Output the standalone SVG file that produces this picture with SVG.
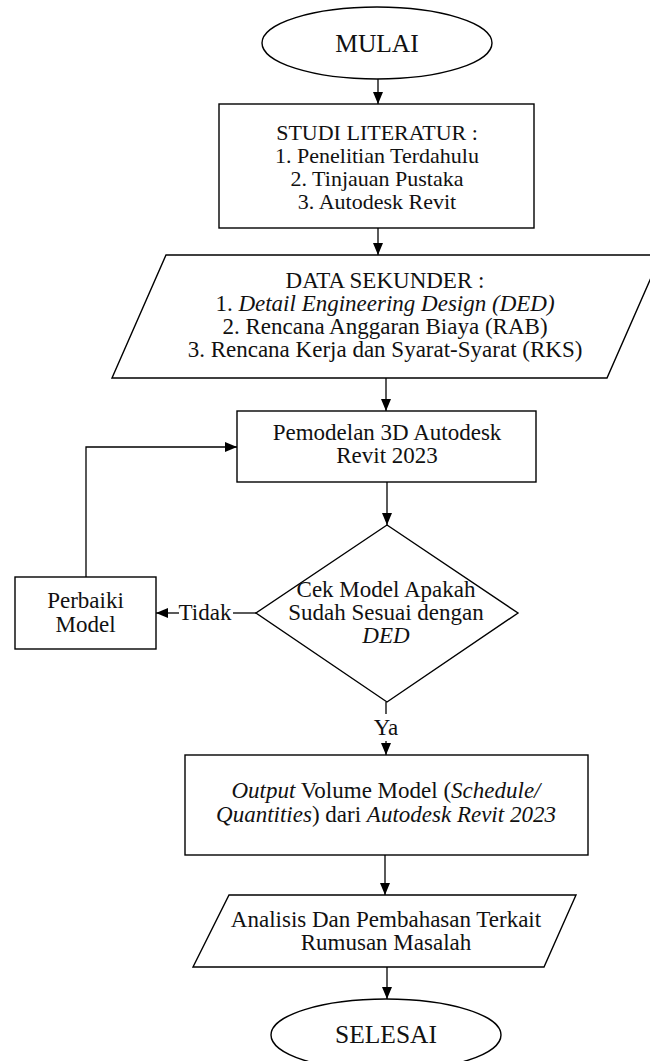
<svg xmlns="http://www.w3.org/2000/svg" width="650" height="1061" viewBox="0 0 650 1061">
<defs>
<marker id="arr" viewBox="0 0 12 10" refX="12" refY="5" markerWidth="12" markerHeight="10" markerUnits="userSpaceOnUse" orient="auto">
<path d="M0,0 L12,5 L0,10 z" fill="#000"/>
</marker>
<style>
.s{fill:#fff;stroke:#000;stroke-width:1.4}
.c{fill:none;stroke:#000;stroke-width:1.3}
text{font-family:"Liberation Serif","Times New Roman",serif;font-size:23px;fill:#111;text-anchor:middle}
.big{font-size:25.5px}
.sm{font-size:22px}
.i{font-style:italic}
</style>
</defs>
<rect width="650" height="1061" fill="#fff"/>
<g id="connectors">
<line class="c" x1="378" y1="79" x2="378" y2="104" marker-end="url(#arr)"/>
<line class="c" x1="378" y1="228" x2="378" y2="255" marker-end="url(#arr)"/>
<line class="c" x1="386" y1="378" x2="386" y2="411" marker-end="url(#arr)"/>
<line class="c" x1="387" y1="482" x2="387" y2="525" marker-end="url(#arr)"/>
<path class="c" d="M86,577 V447 H237" marker-end="url(#arr)"/>
<line class="c" x1="256" y1="613" x2="233" y2="613"/>
<line class="c" x1="179" y1="613" x2="156" y2="613" marker-end="url(#arr)"/>
<text x="205" y="620">Tidak</text>
<line class="c" x1="386" y1="702" x2="386" y2="714"/>
<text x="386" y="735">Ya</text>
<line class="c" x1="386" y1="741" x2="386" y2="755" marker-end="url(#arr)"/>
<line class="c" x1="385" y1="855" x2="385" y2="895" marker-end="url(#arr)"/>
<line class="c" x1="387" y1="967" x2="387" y2="999" marker-end="url(#arr)"/>
</g>
<g id="mulai">
<ellipse class="s" cx="377" cy="43" rx="115" ry="36"/>
<text class="big" x="377" y="52">MULAI</text>
</g>
<g id="studi">
<rect class="s" x="219" y="104" width="315" height="124"/>
<text class="sm" x="377" y="140">STUDI LITERATUR :</text>
<text class="sm" x="377" y="163">1. Penelitian Terdahulu</text>
<text class="sm" x="377" y="186">2. Tinjauan Pustaka</text>
<text class="sm" x="377" y="209">3. Autodesk Revit</text>
</g>
<g id="data">
<polygon class="s" points="166,255 661,255 607,378 112,378"/>
<text x="385" y="288">DATA SEKUNDER :</text>
<text x="385" y="311">1. <tspan class="i">Detail Engineering Design (DED)</tspan></text>
<text x="385" y="334">2. Rencana Anggaran Biaya (RAB)</text>
<text x="385" y="357">3. Rencana Kerja dan Syarat-Syarat (RKS)</text>
</g>
<g id="pemodelan">
<rect class="s" x="237" y="411" width="299" height="71"/>
<text x="387" y="440">Pemodelan 3D Autodesk</text>
<text x="387" y="463">Revit 2023</text>
</g>
<g id="cek">
<polygon class="s" points="387,525 518,613 387,702 256,613"/>
<text x="386" y="597">Cek Model Apakah</text>
<text x="386" y="620">Sudah Sesuai dengan</text>
<text class="i" x="386" y="643">DED</text>
</g>
<g id="perbaiki">
<rect class="s" x="15" y="577" width="141" height="72"/>
<text x="85.5" y="608">Perbaiki</text>
<text x="85.5" y="632">Model</text>
</g>
<g id="output">
<rect class="s" x="185" y="755" width="403" height="100"/>
<text x="386" y="798"><tspan class="i">Output</tspan> Volume Model (<tspan class="i">Schedule/</tspan></text>
<text x="386" y="822"><tspan class="i">Quantities</tspan>) dari <tspan class="i">Autodesk Revit 2023</tspan></text>
</g>
<g id="analisis">
<polygon class="s" points="229,895 576,895 544,967 193,967"/>
<text x="386" y="927">Analisis Dan Pembahasan Terkait</text>
<text x="386" y="950">Rumusan Masalah</text>
</g>
<g id="selesai">
<ellipse class="s" cx="386" cy="1035" rx="115" ry="36"/>
<text class="big" x="386" y="1043">SELESAI</text>
</g>
</svg>
